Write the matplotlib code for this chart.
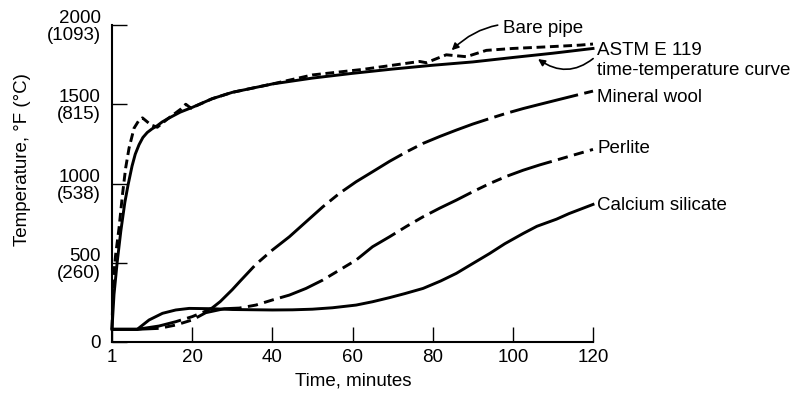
import matplotlib
matplotlib.use('Agg')
import matplotlib.pyplot as plt

plt.rcParams['font.family'] = ['Liberation Sans', 'DejaVu Sans']

# time (min) / temperature (F)
astm_t = [0, 0.5, 1.3, 2.2, 3.2, 4, 5, 5.8, 6.75, 7.7, 8.8, 10, 11.3, 12.5, 14, 17, 20, 25, 30, 40, 50, 60, 70, 80, 90, 100, 110, 120]
astm_T = [85, 300, 505, 700, 880, 990, 1110, 1185, 1245, 1290, 1322, 1345, 1365, 1388, 1410, 1450, 1480, 1535, 1575, 1628, 1665, 1695, 1722, 1746, 1767, 1795, 1822, 1852]

bare_t = [0, 0.3, 0.9, 1.75, 2.6, 3.4, 4.25, 5.5, 6.75, 7.6, 9.7, 11.3, 14, 17.2, 18.4, 19.7, 21, 25, 30, 40, 50, 62.6, 76.75, 78.4, 83.4, 88.4, 93.4, 100, 108.4, 116.75, 120]
bare_T = [85, 380, 549, 718, 927, 1097, 1223, 1349, 1400, 1414, 1370, 1355, 1410, 1470, 1500, 1475, 1490, 1535, 1575, 1628, 1685, 1720, 1770, 1762, 1812, 1800, 1840, 1852, 1862, 1873, 1880]

wool_t = [0, 6.3, 11.75, 15.9, 20, 23.4, 25, 27, 30, 32, 35.9, 40, 44.25, 48.4, 52.6, 56.75, 60.9, 65, 69.25, 73.5, 77.6, 81.8, 85.9, 90, 94.25, 98.4, 102.6, 106.8, 110.9, 115.5, 120]
wool_T = [80, 80, 101, 128, 160, 195, 215, 255, 330, 385, 490, 580, 664, 758, 853, 938, 1011, 1074, 1140, 1200, 1253, 1297, 1337, 1375, 1410, 1443, 1473, 1500, 1526, 1555, 1583]

perlite_t = [0, 6.3, 11.75, 15.9, 20, 23.4, 28, 31.75, 35.9, 40, 44.25, 48.4, 52.6, 56.75, 60.9, 65, 69.25, 73.5, 77.6, 81.8, 85.9, 90, 94.25, 98.4, 102.6, 106.8, 110.9, 115.5, 120]
perlite_T = [80, 80, 86, 107, 139, 185, 210, 214, 233, 265, 296, 338, 391, 454, 517, 601, 664, 730, 790, 845, 895, 948, 1000, 1045, 1084, 1118, 1148, 1182, 1215]

casil_t = [0, 6.3, 9.25, 12.6, 15.9, 19.25, 25, 30, 40, 45, 50, 55, 60.9, 65, 69.25, 73, 77.6, 82, 85.9, 90, 94.25, 98, 102.6, 106, 110.9, 114, 120]
casil_T = [80, 80, 139, 181, 202, 212, 210, 205, 202, 203, 207, 216, 233, 254, 280, 305, 338, 385, 433, 495, 559, 620, 685, 730, 775, 810, 868]

x_ticks = [0, 20, 40, 60, 80, 100, 120]
x_labels = ['1', '20', '40', '60', '80', '100', '120']
y_ticks = [0, 500, 1000, 1500, 2000]
y_labels = ['0', '500\n(260)', '1000\n(538)', '1500\n(815)', '2000\n(1093)']

fs = 13.5
lw = 2.1

fig = plt.figure(figsize=(7.98, 3.95), dpi=100)
ax = fig.add_axes([112/798, 53/395, 481/798, 317/395])

ax.plot(astm_t, astm_T, color='black', lw=lw, clip_on=False)
l, = ax.plot(bare_t, bare_T, color='black', lw=lw, clip_on=False)
l.set_dashes((3.0, 1.6))
l, = ax.plot(wool_t, wool_T, color='black', lw=lw, clip_on=False)
l.set_dashes((24, 2.2, 3.5, 2.2))
l, = ax.plot(perlite_t, perlite_T, color='black', lw=lw, clip_on=False)
l.set_dashes((16, 2.2, 3.5, 2.2, 3.5, 2.2))
ax.plot(casil_t, casil_T, color='black', lw=lw, clip_on=False)

ax.set_xlim(0, 120)
ax.set_ylim(0, 2000)
ax.set_xticks(x_ticks)
ax.set_xticklabels(x_labels, fontsize=fs)
ax.set_yticks(y_ticks)
ax.set_yticklabels(y_labels, fontsize=fs)
for t in ax.get_yticklabels():
    t.set_linespacing(1.0)
ax.tick_params(direction='in', length=11, width=1.0, pad=5, colors='black')
ax.tick_params(axis='y', pad=8)

ax.spines['top'].set_visible(False)
ax.spines['right'].set_visible(False)
ax.spines['left'].set_linewidth(1.5)
ax.spines['bottom'].set_linewidth(1.5)

ax.set_xlabel('Time, minutes', fontsize=fs)
ax.xaxis.set_label_coords(0.501, -0.095)
ax.xaxis.label.set_va('top')
ax.set_ylabel('Temperature, °F (°C)', fontsize=fs)
ax.yaxis.set_label_coords(-0.168, 0.574)

# curve labels
ax.annotate('Bare pipe', xy=(84.75, 1841), xytext=(97.6, 1975), fontsize=fs,
            ha='left', va='center', annotation_clip=False,
            arrowprops=dict(arrowstyle='-|>', color='black', lw=1.2, mutation_scale=10,
                            shrinkA=2, shrinkB=0, connectionstyle='arc3,rad=0.3'))
ax.annotate('ASTM E 119', xy=(106.3, 1785), xytext=(121, 1841), fontsize=fs,
            ha='left', va='center', annotation_clip=False,
            arrowprops=dict(arrowstyle='-|>', color='black', lw=1.2, mutation_scale=10,
                            shrinkA=1, shrinkB=0, connectionstyle='arc3,rad=-0.4',
                            relpos=(0, 0.2)))
ax.text(121, 1715, 'time-temperature curve', fontsize=fs, ha='left', va='center', clip_on=False)
ax.text(121, 1545, 'Mineral wool', fontsize=fs, ha='left', va='center', clip_on=False)
ax.text(121, 1223, 'Perlite', fontsize=fs, ha='left', va='center', clip_on=False)
ax.text(121, 864, 'Calcium silicate', fontsize=fs, ha='left', va='center', clip_on=False)

fig.savefig('out.png', dpi=100)
